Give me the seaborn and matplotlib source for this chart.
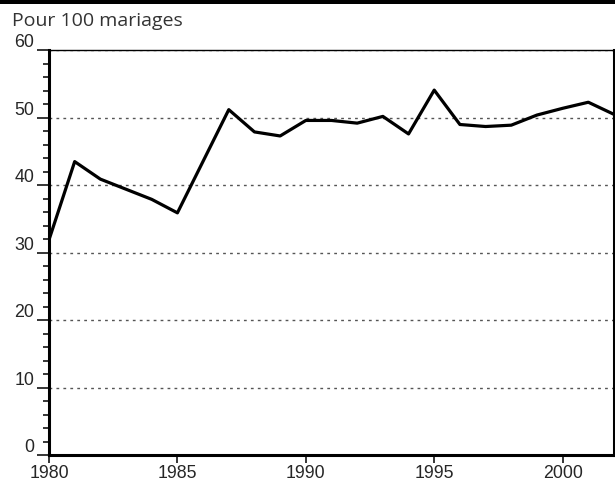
import pandas as pd
import seaborn as sns
import matplotlib.pyplot as plt
from matplotlib.ticker import MultipleLocator
from matplotlib.patches import Rectangle

# divorces pour 100 mariages
years = [1980, 1981, 1982, 1984, 1985, 1987, 1988, 1989, 1990, 1991, 1992,
         1993, 1994, 1995, 1996, 1997, 1998, 1999, 2000, 2001, 2002]
values = [31.9, 43.5, 40.9, 37.9, 35.9, 51.2, 47.9, 47.3, 49.6, 49.6, 49.2,
          50.2, 47.6, 54.1, 49.0, 48.7, 48.9, 50.4, 51.4, 52.3, 50.5]
y_ticks = [0, 10, 20, 30, 40, 50, 60]
x_ticks = [1980, 1985, 1990, 1995, 2000]
unit_label = "Pour 100 mariages"

sns.set_style("white")
plt.rcParams["font.family"] = ["Liberation Sans", "DejaVu Sans"]

df = pd.DataFrame({"annee": years, "valeur": values})

fig = plt.figure(figsize=(6.15, 4.81), dpi=100)
ax = fig.add_axes([49 / 615, 25 / 481, 565 / 615, 404.7 / 481])

sns.lineplot(data=df, x="annee", y="valeur", ax=ax, color="black", linewidth=2.3, zorder=3)

ax.set_xlim(1980, 2002)
ax.set_ylim(0, 60)
ax.set_xticks(x_ticks)
ax.set_yticks(y_ticks)
ax.yaxis.set_minor_locator(MultipleLocator(2))
ax.set_xlabel("")
ax.set_ylabel("")

ax.grid(axis="y", which="major", linestyle=(0, (2, 3)), color="#555555", linewidth=1.0)
ax.set_axisbelow(True)

for side in ["left", "bottom", "right"]:
    ax.spines[side].set_linewidth(2.2)
    ax.spines[side].set_color("black")
ax.spines["top"].set_linewidth(1.0)
ax.spines["top"].set_color("black")

ax.tick_params(axis="y", which="major", direction="out", length=8.6, width=1.1,
               color="black", labelsize=12.8, pad=2, left=True)
ax.tick_params(axis="y", which="minor", direction="out", length=4.3, width=1.1,
               color="black", left=True)
ax.tick_params(axis="x", which="major", direction="out", length=6, width=1.1,
               color="black", labelsize=12.8, pad=0.5, bottom=True)
for lbl in ax.get_yticklabels():
    lbl.set_va("bottom")

fig.add_artist(Rectangle((0, 1 - 5 / 481), 1, 5 / 481, transform=fig.transFigure,
                         color="black", lw=0))
fig.text(12 / 615, 1 - 20.5 / 481, unit_label, fontsize=14, color="#333333",
         va="center", ha="left", family=["Open Sans", "DejaVu Sans"])

fig.savefig("out.png", dpi=100)
